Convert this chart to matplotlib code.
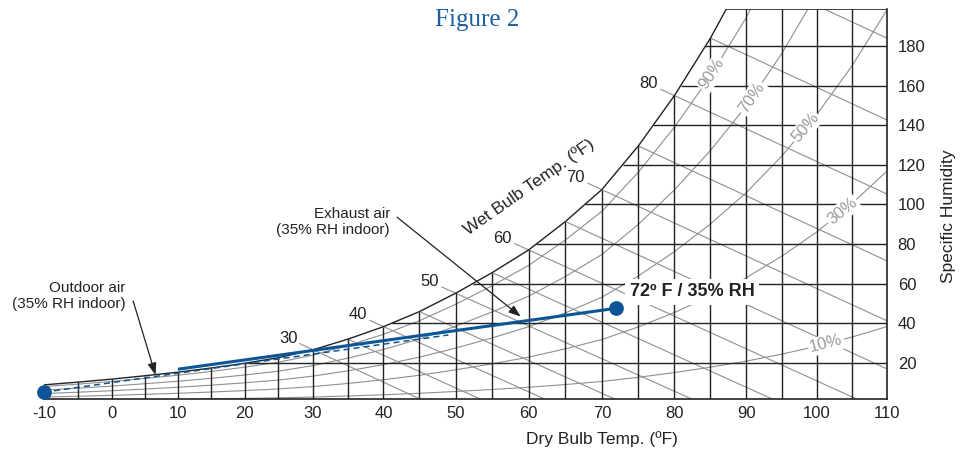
import numpy as np
import matplotlib
matplotlib.use('Agg')
import matplotlib.pyplot as plt

plt.rcParams['font.family'] = ['Liberation Sans', 'DejaVu Sans']

# dry bulb (F) and saturation specific humidity (grains/lb)
temps = [-10, -5, 0, 5, 10, 15, 20, 25, 30, 35, 40, 45, 50, 55, 60,
         65, 70, 75, 80, 85, 90, 95, 100, 105, 110]
sat = [8.8, 10.2, 11.7, 13.4, 15.2, 17.3, 19.7, 22.5, 26.5, 31.9, 38.2,
       45.8, 55.1, 65.5, 77.0, 91.3, 107.5, 129.5, 155.0, 184.0, 217.0,
       256.0, 301.0, 354.0, 416.0]

rh_levels = [10, 30, 50, 70, 90]
rh_label_t = [101.3, 103.6, 98.4, 90.8, 85.2]
wb_temps = [30, 35, 40, 45, 50, 55, 60, 65, 70, 75, 80, 85, 90]
wb_labels = [30, 40, 50, 60, 70, 80]
wb_slope = 1.65          # grains per F along a wet bulb line
hum_lines = [20, 40, 60, 80, 100, 120, 140, 160, 180]
xticks = [-10, 0, 10, 20, 30, 40, 50, 60, 70, 80, 90, 100, 110]

outdoor = [(-10, 5.1), (49, 34.0)]      # dashed
exhaust = [(10, 16.7), (72, 47.5)]      # solid
dot_pts = [(-10, 5.1), (72, 47.5)]

BLUE = '#0c5597'
INK = '#222222'
GREY = '#8f8f8f'


def fwd(t):
    t = np.asarray(t, float)
    u = np.clip((t + 10) / 120.0, 0, 1)
    return t - 64.3 * u ** 2 * (1 - u) ** 3.5


_g = np.linspace(-10, 110, 2401)


def inv(v):
    v = np.asarray(v, float)
    return np.where((v >= -10) & (v <= 110), np.interp(v, fwd(_g), _g), v)


def rh_curve(phi):
    ws = np.array(sat)
    xs = ws / (4354.0 + ws)
    return 4354.0 * phi * xs / (1 - phi * xs)


fig = plt.figure(figsize=(9.66, 4.49), dpi=100)
ax = fig.add_axes([44 / 966, 49.7 / 449, 843.3 / 966, 390.3 / 449])
ax.set_xscale('function', functions=(fwd, inv))
ax.set_xlim(-10, 110)
ax.set_ylim(1.5, 198.7)
ybot, ytop = ax.get_ylim()

t_arr = np.array(temps, float)
s_arr = np.array(sat)

# saturation curve + black grid
ax.plot(t_arr, s_arr, color=INK, lw=1.0, zorder=3)
ax.vlines(t_arr[1:-1], ybot, np.minimum(s_arr[1:-1], ytop), color=INK, lw=1.0, zorder=3)
for w in hum_lines:
    ax.hlines(w, np.interp(w, s_arr, t_arr), 110, color=INK, lw=1.0, zorder=3)
ax.hlines(ytop, np.interp(ytop, s_arr, t_arr), 110, color=INK, lw=1.2, zorder=3)

# relative humidity curves
for phi in rh_levels:
    ax.plot(t_arr, rh_curve(phi / 100.0), color=GREY, lw=0.8, zorder=2)

# wet bulb lines
for t0 in wb_temps:
    w0 = sat[temps.index(t0)]
    start = t0 - 1.9 if t0 in wb_labels else t0
    t_end = t0 + w0 / wb_slope
    ax.plot([start, t_end], [w0 + wb_slope * (t0 - start), 0], color=GREY, lw=0.8, zorder=2)
    if t0 in wb_labels:
        ax.text(t0 - 3.6, w0 + 3.6 * wb_slope, str(t0), ha='center', va='center',
                fontsize=12, color=INK, zorder=6)

# RH labels along curves
for phi, tl in zip(rh_levels, rh_label_t):
    wc = rh_curve(phi / 100.0)
    p1 = ax.transData.transform((tl - 1, np.interp(tl - 1, t_arr, wc)))
    p2 = ax.transData.transform((tl + 1, np.interp(tl + 1, t_arr, wc)))
    ang = np.degrees(np.arctan2(p2[1] - p1[1], p2[0] - p1[0]))
    ax.text(tl, np.interp(tl, t_arr, wc), f'{phi}%', rotation=ang, rotation_mode='anchor',
            ha='center', va='center', fontsize=12, color='#9a9a9a', zorder=6,
            bbox=dict(boxstyle='square,pad=0.1', fc='white', ec='none'))

# process lines
ax.plot([p[0] for p in outdoor], [p[1] for p in outdoor], color=BLUE, lw=1.1,
        ls=(0, (4, 2.6)), zorder=7)
ax.plot([p[0] for p in exhaust], [p[1] for p in exhaust], color=BLUE, lw=2.2,
        solid_capstyle='butt', zorder=7)
ax.plot([p[0] for p in dot_pts], [p[1] for p in dot_pts], 'o', color=BLUE, ms=9.6,
        ls='none', zorder=8, clip_on=False)

ax.text(73.8, 55.9, '72º F / 35% RH', fontsize=13, fontweight='bold', color=INK,
        ha='left', va='center', zorder=7,
        bbox=dict(boxstyle='square,pad=0.25', fc='white', ec='none'))

ax.text(2.0, 53.8, 'Outdoor air\n(35% RH indoor)', ha='right', va='center',
        multialignment='right', fontsize=11, color=INK, linespacing=1.2, zorder=6)
ax.annotate('', xy=(6.6, 13.8), xytext=(3.2, 51.2),
            arrowprops=dict(arrowstyle='-|>,head_length=0.6,head_width=0.22', color=INK,
                            lw=0.9, shrinkA=0, shrinkB=0, mutation_scale=12), zorder=6)
ax.text(40.9, 90.9, 'Exhaust air\n(35% RH indoor)', ha='right', va='center',
        multialignment='right', fontsize=11, color=INK, linespacing=1.2, zorder=6)
ax.annotate('', xy=(58.9, 43.3), xytext=(41.9, 93.5),
            arrowprops=dict(arrowstyle='-|>,head_length=0.6,head_width=0.22', color=INK,
                            lw=0.9, shrinkA=0, shrinkB=0, mutation_scale=12), zorder=6)

ax.text(60.0, 108.8, 'Wet Bulb Temp. (ºF)', rotation=35, ha='center', va='center',
        rotation_mode='anchor', fontsize=12.5, color=INK, zorder=6)

# axes styling
for side in ['top', 'left']:
    ax.spines[side].set_visible(False)
for side in ['bottom', 'right']:
    ax.spines[side].set_color(INK)
    ax.spines[side].set_linewidth(1.2)
ax.set_xticks(xticks)
ax.set_xticklabels([str(v) for v in xticks])
ax.minorticks_off()
ax.yaxis.tick_right()
ax.set_yticks(hum_lines)
ax.tick_params(axis='x', length=0, pad=5, labelsize=12, labelcolor=INK)
ax.tick_params(axis='y', length=0, pad=7.5, labelsize=12, labelcolor=INK)

fig.text(602 / 966, 1 - 438.7 / 449, 'Dry Bulb Temp. (ºF)', ha='center', va='center',
         fontsize=12.5, color=INK)
fig.text(948 / 966, 1 - 216 / 449, 'Specific Humidity', rotation=90, ha='center',
         va='center', fontsize=12.5, color=INK)
fig.text(476.7 / 966, 1 - 25.7 / 449, 'Figure 2', ha='center', va='baseline',
         fontsize=18, color='#1d5e9e', family=['Liberation Serif', 'DejaVu Serif'])

fig.savefig('out.png', dpi=100)
